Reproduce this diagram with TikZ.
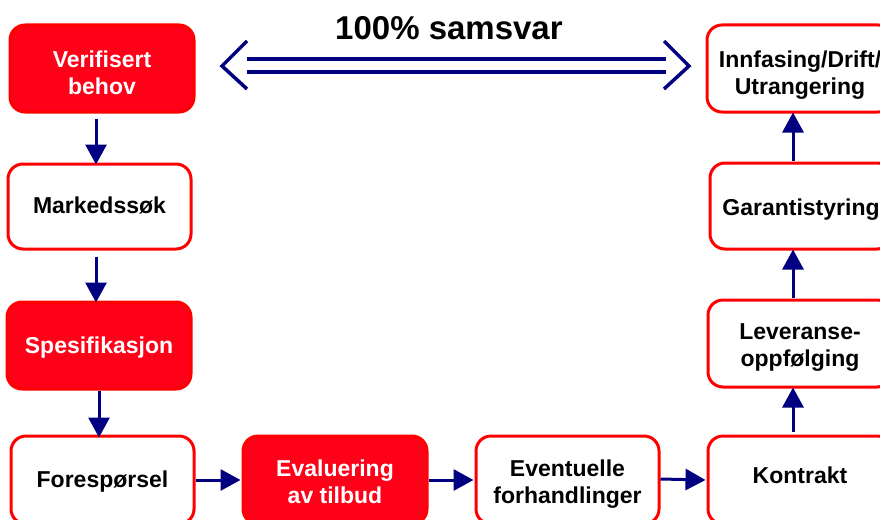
\documentclass[tikz,border=0pt]{standalone}
\usepackage{fontspec}
\setmainfont{Liberation Sans}
\usetikzlibrary{arrows.meta}
\definecolor{boxred}{RGB}{255,0,25}
\definecolor{edgered}{RGB}{255,0,0}
\definecolor{navy}{RGB}{0,0,128}
\begin{document}
\begin{tikzpicture}[x=1pt,y=-1pt,
  box/.style={draw=edgered,line width=3pt,rounded corners=15pt,inner sep=0pt},
  redbox/.style={box,fill=boxred},
  whitebox/.style={box,fill=white},
  txt/.style={align=center,font=\fontsize{23}{27}\selectfont\bfseries,inner sep=0pt},
  wtxt/.style={txt,text=white},
  btxt/.style={txt,text=black},
  arr/.style={draw=navy,line width=3pt,-{Triangle[width=21pt,length=20pt]}},
  dbl/.style={draw=navy,line width=3.5pt}]
\useasboundingbox (0,0) rectangle (880,519);
\clip (0,0) rectangle (880,519);
\node[redbox,minimum width=184pt,minimum height=87pt] (vb) at (102,68.5) {};
\node[whitebox,minimum width=183pt,minimum height=85pt] (ms) at (99.5,206.5) {};
\node[redbox,minimum width=184pt,minimum height=87pt] (sp) at (99,345.5) {};
\node[whitebox,minimum width=183pt,minimum height=88pt] (fo) at (102.5,480) {};
\node[redbox,minimum width=184pt,minimum height=88pt] (ev) at (335,480) {};
\node[whitebox,minimum width=183pt,minimum height=88pt] (et) at (567.5,480) {};
\node[whitebox,minimum width=184pt,minimum height=88pt] (ko) at (800,480) {};
\node[whitebox,minimum width=184pt,minimum height=87pt] (le) at (800,343.5) {};
\node[whitebox,minimum width=182pt,minimum height=86pt] (ga) at (801,206) {};
\node[whitebox,minimum width=186pt,minimum height=87pt] (in) at (800,68.5) {};
\node[wtxt] (vbt) at ([yshift=-4pt]vb.center) {Verifisert\\behov};
\node[btxt] (mst) at ([yshift=1pt]ms.center) {Markedssøk};
\node[wtxt] (spt) at ([yshift=-2pt]sp.center) {Spesifikasjon};
\node[btxt] (fot) at ([yshift=-2pt]fo.center) {Forespørsel};
\node[wtxt] (evt) at ([yshift=-2pt]ev.center) {Evaluering\\av tilbud};
\node[btxt] (ett) at ([yshift=-4pt]et.center) {Eventuelle\\forhandlinger};
\node[btxt] (kot) at ([yshift=5pt]ko.center) {Kontrakt};
\node[btxt] (let) at ([yshift=-4pt]le.center) {Leveranse-\\oppfølging};
\node[btxt] (gat) at ([yshift=-4pt]ga.center) {Garantistyring};
\node[btxt] (int) at ([yshift=-7pt]in.center) {Innfasing/Drift/\\Utrangering};
\node[font=\fontsize{33}{36}\selectfont\bfseries,anchor=base] (title) at (449,40) {100\% samsvar};
% vertical arrows left column
\draw[arr] ([xshift=-6pt,yshift=-5pt]vb.south) -- ([xshift=-6pt,yshift=-2pt]vb.south |- ms.north);
\draw[arr] ([xshift=-3.5pt,yshift=-6pt]ms.south) -- ([xshift=-3.5pt,yshift=-2pt]ms.south |- sp.north);
\draw[arr] (sp.south) -- ([yshift=-3pt]sp.south |- fo.north);
% bottom row
\draw[arr] (fo.east) -- ([xshift=-1pt]ev.west);
\draw[arr] (ev.east) -- ([xshift=-1pt]et.west);
\draw[arr] ([yshift=1pt]et.east) -- ([xshift=-1pt]ko.west);
% right column up
\draw[arr] ([xshift=-7pt,yshift=3pt]ko.north) -- ([xshift=-7pt,yshift=1pt]ko.north |- le.south);
\draw[arr] ([xshift=-7pt,yshift=1pt]le.north) -- ([xshift=-7pt,yshift=1pt]le.north |- ga.south);
\draw[arr] ([xshift=-8pt,yshift=1pt]ga.north) -- ([xshift=-8pt,yshift=1pt]ga.north |- in.south);
% double arrow
\coordinate (lt) at (222,66);
\coordinate (rt) at (689,66);
\draw[dbl] (247,41) -- (lt) -- (247,89);
\draw[dbl] (664,41) -- (rt) -- (664,89);
\draw[dbl] (247,59) -- (666,59);
\draw[dbl] (247,72) -- (666,72);
\end{tikzpicture}
\end{document}
